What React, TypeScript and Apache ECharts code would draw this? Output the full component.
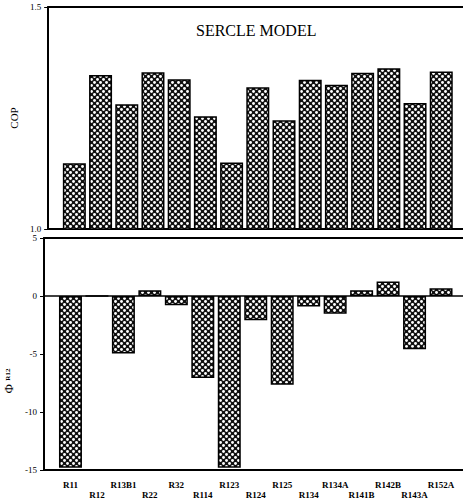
import React, { useEffect, useRef } from "react";
import * as echarts from "echarts";

const categories = ["R11", "R12", "R13B1", "R22", "R32", "R114", "R123", "R124", "R125", "R134", "R134A", "R141B", "R142B", "R143A", "R152A"];
const copValues = [1.148, 1.347, 1.281, 1.353, 1.337, 1.254, 1.15, 1.319, 1.245, 1.336, 1.325, 1.352, 1.362, 1.284, 1.355];
const phiValues = [-14.8, 0, -4.96, 0.5, -0.8, -7.07, -14.8, -2.08, -7.65, -0.9, -1.53, 0.5, 1.25, -4.6, 0.67];
const copTicks = { min: 1.0, max: 1.5, interval: 0.5 };
const phiTicks = { min: -15, max: 5, interval: 5 };
const titleText = "SERCLE MODEL";

const SERIF = "'Liberation Serif', 'DejaVu Serif', serif";

function makePattern(): HTMLCanvasElement {
  const c = document.createElement("canvas");
  c.width = 6;
  c.height = 6;
  const ctx = c.getContext("2d")!;
  ctx.fillStyle = "#111";
  ctx.fillRect(0, 0, 6, 6);
  ctx.fillStyle = "#fff";
  const dots = [
    [1.5, 1.5],
    [4.5, 4.5],
  ];
  for (const [x, y] of dots) {
    ctx.beginPath();
    ctx.arc(x, y, 1.45, 0, Math.PI * 2);
    ctx.fill();
  }
  return c;
}

export default function App() {
  const ref = useRef<HTMLDivElement>(null);
  useEffect(() => {
    document.body.style.margin = "0";
    const chart = echarts.init(ref.current!, undefined, { renderer: "svg" });
    const pattern = { image: makePattern(), repeat: "repeat" };
    const xMin = -1;
    const xMax = 14.83;
    const labelFmt = (v: number) => {
      const i = Math.round(v);
      if (Math.abs(v - i) > 1e-6 || i < 0 || i >= categories.length) return "";
      return i % 2 === 0 ? categories[i] : "\n" + categories[i];
    };
    const itemStyle = { color: pattern as any, borderColor: "#000", borderWidth: 1.5 };
    const lineStyle = { color: "#000", width: 2 };
    const yAxisCommon = {
      axisLine: { show: true, onZero: false, lineStyle },
      axisTick: { show: true, length: 4, lineStyle: { color: "#000" } },
      splitLine: { show: false },
      axisLabel: { color: "#000", fontFamily: SERIF, fontSize: 9, margin: 7 },
    };
    const frameAxis = (gridIndex: number, position: string) => ({
      type: "value", gridIndex, position, min: xMin, max: xMax, interval: 1,
      axisLine: { show: true, onZero: false, lineStyle }, axisTick: { show: false },
      axisLabel: { show: false }, splitLine: { show: false },
    });
    chart.setOption({
      animation: false,
      backgroundColor: "#fff",
      title: {
        text: titleText,
        left: 191,
        top: 17,
        textStyle: { fontFamily: SERIF, fontSize: 16, fontWeight: "normal", color: "#000" },
      },
      grid: [
        { left: 44, right: 0, top: 7, height: 222 },
        { left: 44, right: 0, top: 238, height: 232 },
      ],
      xAxis: [
        frameAxis(0, "bottom"),
        {
          ...frameAxis(1, "bottom"),
          axisLabel: {
            show: true,
            formatter: labelFmt, color: "#000", fontFamily: SERIF, fontSize: 9, fontWeight: "bold",
            lineHeight: 10, margin: 10, showMinLabel: true, showMaxLabel: false,
          },
        },
        frameAxis(0, "top"),
        frameAxis(1, "top"),
      ],
      yAxis: [
        {
          type: "value", gridIndex: 0, ...copTicks, ...yAxisCommon,
          axisLabel: { ...yAxisCommon.axisLabel, formatter: (v: number) => v.toFixed(1) },
          name: "COP", nameLocation: "middle", nameGap: 28, nameRotate: 90,
          nameTextStyle: { fontFamily: SERIF, fontSize: 11, color: "#000" },
        },
        {
          type: "value", gridIndex: 1, ...phiTicks, ...yAxisCommon,
        },
      ],
      graphic: [
        {
          type: "text",
          x: 8,
          y: 381,
          rotation: Math.PI / 2,
          style: {
            text: "{a|Φ} {b|R12}",
            rich: {
              a: { fontFamily: SERIF, fontSize: 13, fill: "#000" },
              b: { fontFamily: SERIF, fontSize: 7, fill: "#000", fontWeight: "bold" },
            },
            align: "center",
            verticalAlign: "middle",
          },
        },
      ],
      series: [
        {
          type: "bar", xAxisIndex: 0, yAxisIndex: 0, barWidth: 23,
          data: copValues.map((v, i) => [i, v]),
          itemStyle,
        },
        {
          type: "bar", xAxisIndex: 1, yAxisIndex: 1, barWidth: 23,
          data: phiValues.map((v, i) => [i, v]),
          itemStyle,
          markLine: {
            silent: true, symbol: "none", label: { show: false },
            lineStyle: { color: "#000", width: 1.5, type: "solid" },
            data: [{ yAxis: 0 }],
          },
        },
      ],
    });
    return () => chart.dispose();
  }, []);
  return <div ref={ref} style={{ width: 463, height: 500 }} />;
}
